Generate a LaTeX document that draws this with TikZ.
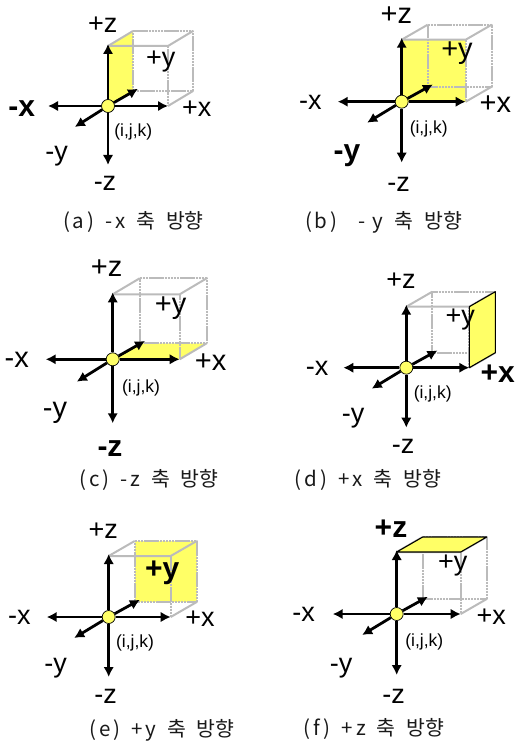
\documentclass[tikz,border=0pt]{standalone}
\usepackage{fontspec}
\usetikzlibrary{arrows.meta}
\setmainfont{Liberation Sans}
\newfontfamily\capko{Noto Sans CJK KR}
\newfontfamily\caplat[LetterSpace=14]{Noto Sans CJK KR}
\definecolor{faceyellow}{HTML}{FFFF66}
\definecolor{cubegray}{HTML}{BBBBBB}
\tikzset{
 cubeline/.style={draw=cubegray,line width=2pt},
 cubehidden/.style={draw=cubegray,line width=2pt,dash pattern=on 2.5pt off .6pt},
 axisline/.style={draw=black,line width=2.8pt,->},
 facefill/.style={fill=faceyellow},
 faceedge/.style={fill=faceyellow,draw=black,line width=1.1pt},
 origin/.style={circle,draw=black,line width=.7pt,fill=faceyellow,minimum size=13pt,inner sep=0pt},
 axlabel/.style={inner sep=0pt,font=\fontsize{27}{28}\selectfont},
 axlarge/.style={inner sep=0pt,font=\fontsize{29}{30}\selectfont},
 axhot/.style={inner sep=0pt,font=\fontsize{30}{32}\bfseries\selectfont},
 ijk/.style={inner sep=0pt,font=\fontsize{17.5}{20}\selectfont},
 caption/.style={inner sep=0pt,text=black!90,font=\fontsize{20.5}{24}\selectfont}
}
% corners of one cube: name, origin x, y, width, height, depth offset x, y
\newcommand\cubecorners[7]{%
 \begin{scope}[shift={(#2,#3)}]
 \coordinate (#1-fbl) at (0,0);
 \coordinate (#1-fbr) at (#4,0);
 \coordinate (#1-ftl) at (0,-#5);
 \coordinate (#1-ftr) at (#4,-#5);
 \coordinate (#1-bbl) at (#6,#7);
 \coordinate (#1-bbr) at (#4+#6,#7);
 \coordinate (#1-btl) at (#6,-#5+#7);
 \coordinate (#1-btr) at (#4+#6,-#5+#7);
 \coordinate (#1-xp) at (#4,0);
 \coordinate (#1-xm) at (-#4,0);
 \coordinate (#1-zp) at (0,-#5-2);
 \coordinate (#1-zm) at (0,#5-1);
 \coordinate (#1-yp) at (1.2*#6,1.15*#7);
 \coordinate (#1-ym) at (-1.33*#6,-1.4*#7);
 \end{scope}}
\newcommand\cubeedges[1]{%
 \draw[cubehidden] (#1-btl)--(#1-btr)--(#1-bbr)--(#1-bbl)--cycle;
 \draw[cubehidden] (#1-fbl)--(#1-ftl);
 \draw[cubehidden] (#1-ftr)--(#1-fbr);
 \draw[cubeline] (#1-ftl)--(#1-btl);
 \draw[cubeline] (#1-ftl)--(#1-ftr)--(#1-btr);
 \draw[cubeline] (#1-fbr)--(#1-bbr);}
\newcommand\axisarrows[3]{%
 \node[origin] (#1-o) at (#2,#3) {};
 \foreach \tip in {xp,xm,zp,zm,yp,ym}
  \draw[axisline] (#1-o)--(#1-\tip);}
\newcommand\capline[2]{{\caplat #1\hspace{11pt}#2\hspace{11pt}\capko 축\hspace{11pt}방향}}
\begin{document}
\begin{tikzpicture}[x=1pt,y=-1pt,>={Latex[length=10pt,width=10.5pt]},line join=round]
\useasboundingbox (0,0) rectangle (514,743);
% (a) face on the -x side
\cubecorners{a}{108}{106}{60}{60}{25}{-15}
\fill[facefill] (a-fbl)--(a-ftl)--(a-btl)--(a-bbl)--cycle;
\cubeedges{a}
\axisarrows{a}{108}{106}
\node[axlabel] (a-lzp) at (102.7,24.3) {+z};
\node[axhot] (a-lxm) at (21.7,109) {-x};
\node[axlabel] (a-lxp) at (196.7,108.3) {+x};
\node[axlabel] (a-lyp) at (160.7,61.7) {+y};
\node[axlabel] (a-lym) at (56.7,155.7) {-y};
\node[axlabel] (a-lzm) at (105,183.3) {-z};
\node[ijk] (a-ijk) at (133.3,132.3) {(i,j,k)};
\node[caption] (a-cap) at (133.5,222) {\capline{(a)}{-x}};
% (b) face on the -y side
\cubecorners{b}{401.7}{101.7}{64}{62}{26}{-15}
\fill[facefill] (b-fbl)--(b-fbr)--(b-ftr)--(b-ftl)--cycle;
\cubeedges{b}
\axisarrows{b}{401.7}{101.7}
\node[axlarge] (b-lzp) at (396.3,15) {+z};
\node[axlabel] (b-lxm) at (310.3,102.7) {-x};
\node[axlarge] (b-lxp) at (495.3,104) {+x};
\node[axlarge] (b-lyp) at (457,52.7) {+y};
\node[axhot] (b-lym) at (347,156) {-y};
\node[axlabel] (b-lzm) at (398.7,184.3) {-z};
\node[ijk] (b-ijk) at (428.7,129) {(i,j,k)};
\node[caption] (b-cap) at (383.7,222) {\capline{(b)}{\hspace{10pt}- y}};
% (c) face on the -z side
\cubecorners{c}{112.7}{359.3}{67}{65}{27}{-16}
\fill[facefill] (c-fbl)--(c-fbr)--(c-bbr)--(c-bbl)--cycle;
\cubeedges{c}
\axisarrows{c}{112.7}{359.3}
\node[axlarge] (c-lzp) at (106.7,267.7) {+z};
\node[axlarge] (c-lxm) at (16.7,360) {-x};
\node[axlarge] (c-lxp) at (210.7,361.7) {+x};
\node[axlarge] (c-lyp) at (170.7,308.3) {+y};
\node[axlarge] (c-lym) at (55,413.3) {-y};
\node[axhot] (c-lzm) at (110,448.3) {-z};
\node[ijk] (c-ijk) at (141,387.7) {(i,j,k)};
\node[caption] (c-cap) at (149,480) {\capline{(c)}{-z}};
% (d) face on the +x side
\cubecorners{d}{406.3}{367.7}{63}{61}{26}{-15}
\cubeedges{d}
\draw[faceedge] (d-fbr)--(d-ftr)--(d-btr)--(d-bbr)--cycle;
\axisarrows{d}{406.3}{367.7}
\node[axlabel] (d-lzp) at (401,281) {+z};
\node[axlabel] (d-lxm) at (317,368.3) {-x};
\node[axhot] (d-lxp) at (497.7,373.3) {+x};
\node[axlabel] (d-lyp) at (460.3,320) {+y};
\node[axlabel] (d-lym) at (353,417.7) {-y};
\node[axlabel] (d-lzm) at (403,446.7) {-z};
\node[ijk] (d-ijk) at (432.7,394.3) {(i,j,k)};
\node[caption] (d-cap) at (368,480) {\capline{(d)}{+x}};
% (e) face on the +y side
\cubecorners{e}{108.7}{617}{62}{61}{26}{-15}
\fill[facefill] (e-bbl)--(e-bbr)--(e-btr)--(e-btl)--cycle;
\cubeedges{e}
\axisarrows{e}{108.7}{617}
\node[axlabel] (e-lzp) at (103.3,531) {+z};
\node[axlabel] (e-lxm) at (19.3,617.7) {-x};
\node[axlabel] (e-lxp) at (200,619) {+x};
\node[axhot] (e-lyp) at (162.3,573.3) {+y};
\node[axlabel] (e-lym) at (55.7,668.3) {-y};
\node[axlabel] (e-lzm) at (105.7,696.7) {-z};
\node[ijk] (e-ijk) at (135,643.3) {(i,j,k)};
\node[caption] (e-cap) at (162,730) {\capline{(e)}{+y}};
% (f) face on the +z side
\cubecorners{f}{396.7}{614}{64}{62}{26}{-15}
\cubeedges{f}
\draw[faceedge] (f-ftl)--(f-ftr)--(f-btr)--(f-btl)--cycle;
\axisarrows{f}{396.7}{614}
\node[axhot] (f-lzp) at (391,528.3) {+z};
\node[axlabel] (f-lxm) at (303.7,614.3) {-x};
\node[axlabel] (f-lxp) at (491.3,616.7) {+x};
\node[axlabel] (f-lyp) at (452.7,565.7) {+y};
\node[axlabel] (f-lym) at (341,667.7) {-y};
\node[axlabel] (f-lzm) at (393.7,696.7) {-z};
\node[ijk] (f-ijk) at (424.3,641.7) {(i,j,k)};
\node[caption] (f-cap) at (374,729) {\capline{(f)}{+z}};
\end{tikzpicture}
\end{document}
